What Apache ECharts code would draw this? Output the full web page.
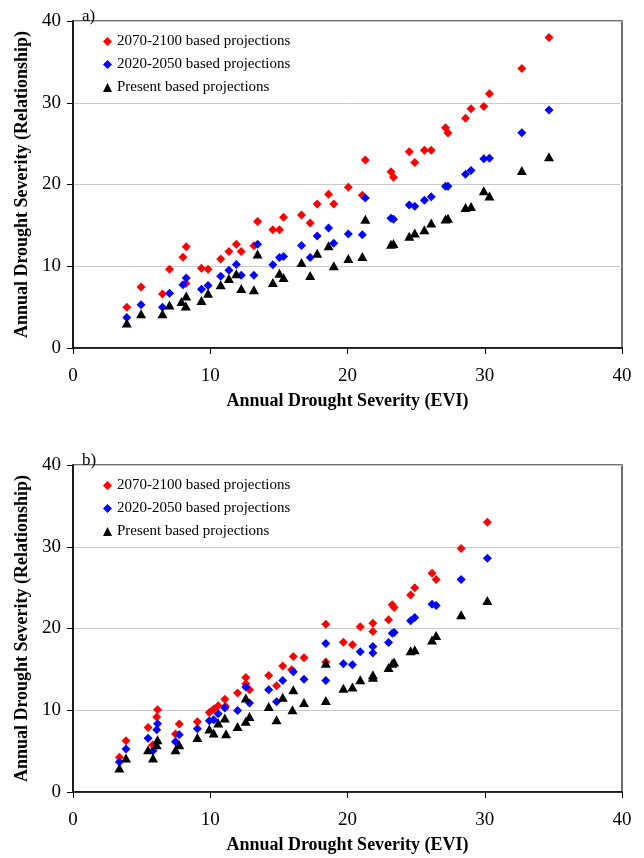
<!DOCTYPE html>
<html>
<head>
<meta charset="utf-8">
<script src="https://cdn.jsdelivr.net/npm/echarts@6/dist/echarts.min.js"></script>
<style>
  html, body { margin: 0; padding: 0; background: #fff; }
  #container { width: 644px; height: 858px; }
</style>
</head>
<body>
<div id="container"></div>
<script>
var seriesNames = ['2070-2100 based projections', '2020-2050 based projections', 'Present based projections'];
var panelLabels = ['a)', 'b)'];
var xTitle = 'Annual Drought Severity (EVI)';
var yTitle = 'Annual Drought Severity (Relationship)';

// panel a) [EVI, relationship]
var a2070 = [[3.92,5.0],[4.96,7.45],[6.52,6.6],[7.03,9.64],[8.01,11.1],[8.25,12.4],[8.23,7.9],[9.36,9.77],[9.84,9.64],
  [10.76,10.9],[11.36,11.8],[11.9,12.7],[12.26,11.8],[13.18,12.5],[13.45,15.46],[14.56,14.45],[15.04,14.45],[15.34,16.0],
  [16.65,16.28],[17.28,15.3],[17.79,17.6],[18.62,18.8],[19.0,17.6],[20.06,19.65],[21.08,18.7],[21.3,23.0],[23.17,21.57],
  [23.35,20.9],[24.5,24.0],[24.9,22.7],[25.6,24.2],[26.1,24.2],[27.14,26.94],[27.32,26.3],[28.6,28.1],[29.0,29.26],
  [29.93,29.54],[30.34,31.1],[32.7,34.2],[34.68,37.97]];
var a2020 = [[3.92,3.74],[4.96,5.29],[6.52,5.0],[7.03,6.71],[8.01,7.73],[8.25,8.55],[9.36,7.2],[9.84,7.65],[10.76,8.79],
  [11.36,9.52],[11.9,10.2],[12.26,8.91],[13.18,8.91],[13.45,12.7],[14.56,10.17],[15.04,11.07],[15.34,11.19],[16.65,12.53],
  [17.28,11.07],[17.79,13.71],[18.62,14.69],[19.0,12.82],[20.06,13.96],[21.08,13.84],[21.3,18.35],[23.17,15.87],
  [23.35,15.75],[24.5,17.5],[24.9,17.33],[25.6,18.07],[26.1,18.5],[27.14,19.78],[27.32,19.78],[28.6,21.24],[29.0,21.7],
  [29.93,23.15],[30.34,23.2],[32.7,26.33],[34.68,29.1]];
var aPresent = [[3.92,3.05],[4.96,4.19],[6.52,4.19],[7.03,5.25],[7.9,5.7],[8.25,6.35],[8.22,5.14],[9.36,5.82],[9.84,6.71],
  [10.76,7.73],[11.36,8.5],[11.9,9.07],[12.26,7.28],[13.18,7.12],[13.45,11.5],[14.56,8.0],[15.04,9.15],[15.34,8.63],
  [16.65,10.46],[17.28,8.87],[17.79,11.6],[18.62,12.5],[19.0,10.05],[20.06,10.95],[21.08,11.19],[21.3,15.75],[23.17,12.7],
  [23.35,12.78],[24.5,13.67],[24.9,14.08],[25.6,14.45],[26.1,15.3],[27.14,15.79],[27.32,15.87],[28.6,17.2],[29.0,17.3],
  [29.93,19.25],[30.34,18.6],[32.7,21.7],[34.68,23.4]];

// panel b)
var b2070 = [[3.38,4.24],[3.86,6.27],[5.47,7.9],[5.8,5.75],[6.1,9.16],[6.16,10.06],[7.47,7.09],[7.74,8.31],[9.06,8.6],
  [9.93,9.74],[10.25,10.14],[10.58,10.55],[11.06,11.36],[11.1,10.5],[11.99,12.1],[12.59,14.0],[12.59,13.24],[12.86,12.5],
  [14.26,14.26],[14.83,13.0],[15.28,15.4],[15.93,14.95],[16.05,16.58],[16.83,16.42],[18.42,20.53],[18.42,15.89],[19.7,18.33],
  [20.36,18.0],[20.93,20.2],[21.85,20.65],[21.85,19.63],[22.99,21.06],[23.26,22.89],[23.4,22.57],[24.6,24.1],[24.9,25.0],
  [26.16,26.76],[26.46,25.99],[28.28,29.8],[30.19,33.0]];
var b2020 = [[3.38,3.67],[3.86,5.25],[5.47,6.56],[5.83,5.05],[6.1,7.6],[6.16,8.35],[7.47,6.15],[7.74,7.0],[9.06,7.74],
  [9.93,8.72],[10.25,8.84],[10.58,9.57],[11.06,10.26],[11.99,9.98],[12.59,12.83],[12.86,10.88],[14.26,12.5],[14.83,11.04],
  [15.28,13.65],[16.05,14.7],[16.83,13.8],[18.42,18.17],[18.42,13.65],[19.7,15.68],[20.36,15.56],[20.93,17.15],
  [21.85,17.8],[21.85,16.99],[22.99,18.29],[23.26,19.43],[23.4,19.51],[24.6,20.94],[24.9,21.34],[26.16,22.97],
  [26.46,22.81],[28.28,25.99],[30.19,28.6]];
var bPresent = [[3.38,2.93],[3.86,4.15],[5.47,5.17],[5.83,4.15],[6.1,5.78],[6.16,6.4],[7.47,5.17],[7.74,5.78],[9.06,6.68],
  [9.93,7.7],[10.25,7.21],[10.58,8.43],[11.06,9.04],[11.15,7.13],[11.99,8.02],[12.59,8.64],[12.59,11.49],[12.86,9.25],
  [14.26,10.47],[14.83,8.84],[15.28,11.6],[16.05,12.5],[15.99,10.06],[16.83,10.96],[18.42,15.76],[18.42,11.2],[19.7,12.7],
  [20.36,12.83],[20.93,13.73],[21.85,14.34],[21.85,14.05],[22.99,15.23],[23.26,15.76],[23.4,15.89],[24.6,17.27],[24.9,17.39],
  [26.16,18.6],[26.46,19.14],[28.28,21.67],[30.19,23.42]];

var panels = [[a2070, a2020, aPresent], [b2070, b2020, bPresent]];
var colors = ['#ff0000', '#0000ff', '#000000'];
var symbols = ['diamond', 'diamond', 'triangle'];
var sizes = [[9, 9], [9, 9], [10, 9]];
var font = '"Liberation Serif", "Times New Roman", serif';

var myChart = echarts.init(document.getElementById('container'));

var gridTops = [21, 465];
var option = {
    backgroundColor: '#fff',
    animation: false,
    title: [],
    legend: [],
    grid: [],
    xAxis: [],
    yAxis: [],
    series: []
};

for (var p = 0; p < 2; p++) {
    option.title.push({
        text: panelLabels[p],
        left: 77,
        top: gridTops[p] - 18,
        textStyle: {fontFamily: font, fontSize: 17, fontWeight: 'normal', color: '#000'}
    });
    option.grid.push({
        left: 73, right: 22, top: gridTops[p], height: 327,
        show: true, borderColor: '#404040', borderWidth: 1.5
    });
    option.legend.push({
        orient: 'vertical',
        left: 98,
        top: gridTops[p] + 8,
        itemWidth: 9,
        itemHeight: 9,
        itemGap: 8,
        selectedMode: false,
        textStyle: {fontFamily: font, fontSize: 15, color: '#000'},
        data: seriesNames.map(function (n, i) { return {name: n, icon: symbols[i]}; })
    });
    option.xAxis.push({
        gridIndex: p, type: 'value', min: 0, max: 40, interval: 10,
        name: xTitle, nameLocation: 'middle', nameGap: 44,
        nameTextStyle: {fontFamily: font, fontSize: 18, fontWeight: 'bold', color: '#000'},
        axisLine: {onZero: false, lineStyle: {color: '#000', width: 1.5}},
        axisTick: {show: true, inside: false, length: 6, lineStyle: {color: '#000'}},
        axisLabel: {fontFamily: font, fontSize: 19, color: '#000', margin: 19},
        splitLine: {show: false}
    });
    option.yAxis.push({
        gridIndex: p, type: 'value', min: 0, max: 40, interval: 10,
        name: yTitle, nameLocation: 'middle', nameGap: 41,
        nameTextStyle: {fontFamily: font, fontSize: 18, fontWeight: 'bold', color: '#000'},
        axisLine: {onZero: false, lineStyle: {color: '#000', width: 1.5}},
        axisTick: {show: true, inside: false, length: 6, lineStyle: {color: '#000'}},
        axisLabel: {fontFamily: font, fontSize: 19, color: '#000', margin: 12},
        splitLine: {show: true, lineStyle: {color: '#c8c8c8', width: 1}}
    });
    for (var s = 0; s < 3; s++) {
        option.series.push({
            name: seriesNames[s],
            type: 'scatter',
            xAxisIndex: p,
            yAxisIndex: p,
            symbol: symbols[s],
            symbolSize: sizes[s],
            itemStyle: {color: colors[s], opacity: 1},
            data: panels[p][s]
        });
    }
}

myChart.setOption(option);
</script>
</body>
</html>
